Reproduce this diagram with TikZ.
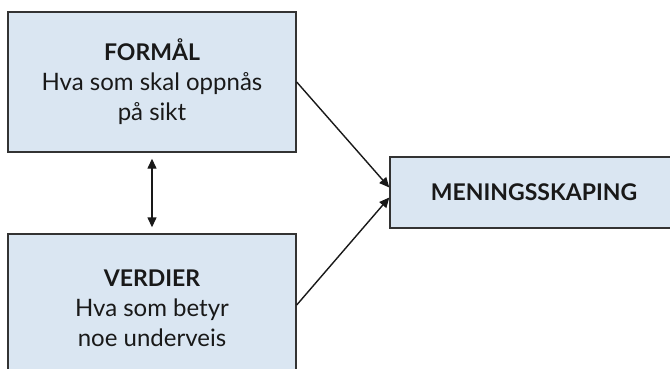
\documentclass[tikz,border=0pt]{standalone}
\usepackage{fontspec}
\setmainfont{Lato}
\usetikzlibrary{arrows.meta}
\definecolor{boxfill}{HTML}{DAE6F2}
\definecolor{boxline}{HTML}{333333}
\newcommand{\headtxt}[1]{{\fontsize{23}{30}\selectfont\bfseries #1}}
\begin{document}
\begin{tikzpicture}[x=1pt,y=1pt,
  infobox/.style={draw=boxline, line width=1.4pt, fill=boxfill, align=center,
    font=\fontsize{24}{30}\selectfont, inner sep=0pt, text=black!90},
  conn/.style={line width=1.4pt, draw=black!90},
  tip/.style={-{Triangle[length=10pt,width=9pt]}}]
\clip (0,0) rectangle (670,368);
\fill[white] (0,0) rectangle (670,368);
\node[infobox, minimum width=288pt, minimum height=140pt] (top) at (152,286)
  {\headtxt{FORMÅL}\\Hva som skal oppnås\\på sikt};
\node[infobox, minimum width=288pt, minimum height=148pt] (bot) at (152,60)
  {\headtxt{VERDIER}\\Hva som betyr\\noe underveis};
\node[infobox, minimum width=288pt, minimum height=71pt] (mid) at (534,175.5)
  {\headtxt{MENINGSSKAPING}};
\draw[conn, tip] (top.east) -- ([yshift=5pt]mid.west);
\draw[conn, tip] ([yshift=3pt]bot.east) -- ([yshift=-5pt]mid.west);
\draw[conn, {Triangle[length=10pt,width=9pt]}-{Triangle[length=10pt,width=9pt]}]
  ([yshift=-6pt]top.south) -- ([yshift=6pt]bot.north);
\end{tikzpicture}
\end{document}
